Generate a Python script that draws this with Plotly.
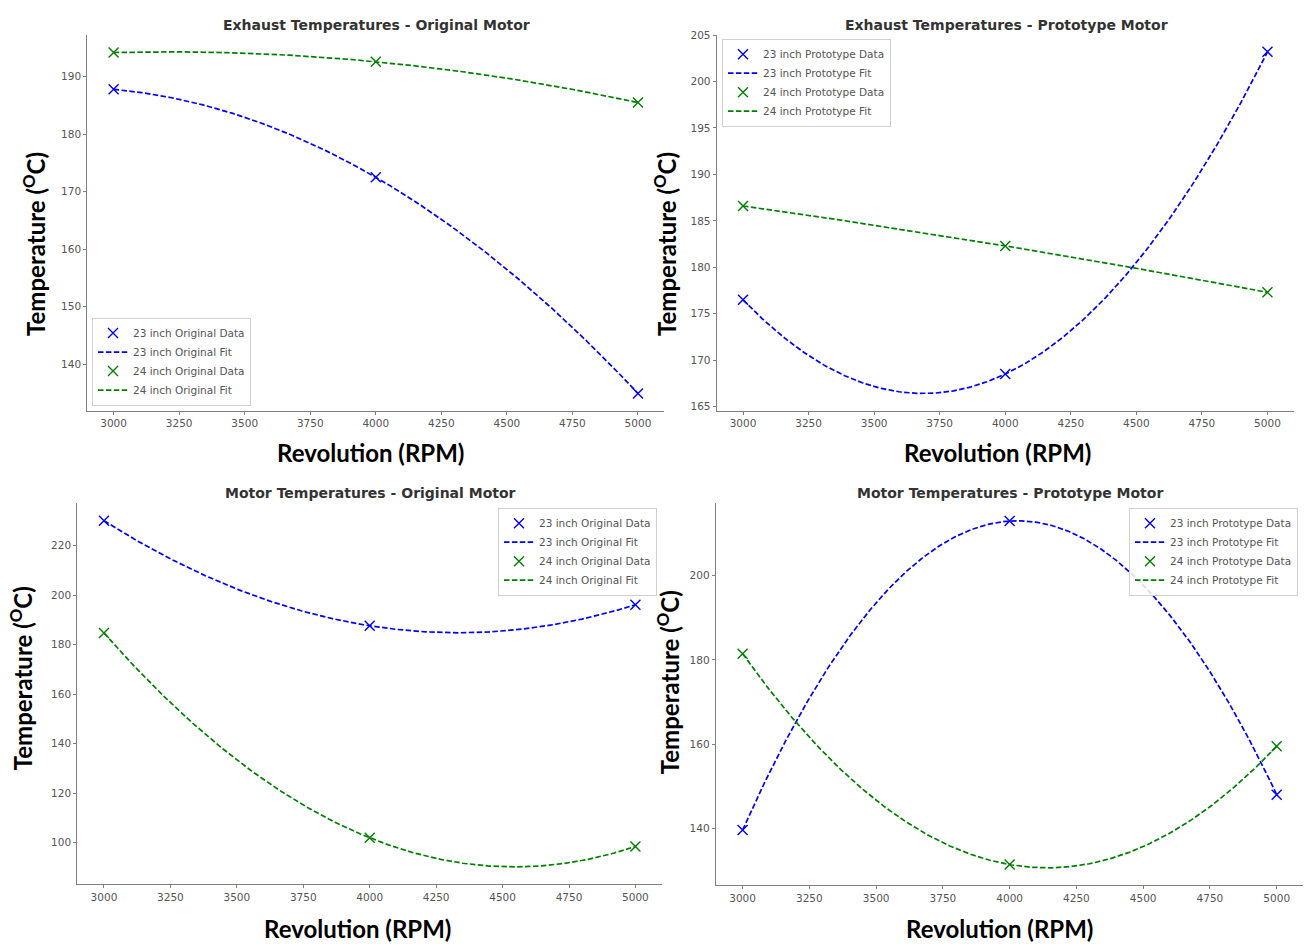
import numpy as np
import plotly.graph_objects as go

# ---- measured data -------------------------------------------------------
rpm = [3000, 4000, 5000]

exhaust_orig_23 = [187.8, 172.5, 134.9]
exhaust_orig_24 = [194.2, 192.6, 185.5]

exhaust_proto_23 = [176.5, 168.5, 203.2]
exhaust_proto_24 = [186.6, 182.3, 177.3]

motor_orig_23 = [230.0, 187.6, 196.1]
motor_orig_24 = [184.7, 102.0, 98.5]

motor_proto_23 = [139.6, 213.0, 148.0]
motor_proto_24 = [181.5, 131.4, 159.5]

panel_titles = [
    "Exhaust Temperatures - Original Motor",
    "Exhaust Temperatures - Prototype Motor",
    "Motor Temperatures - Original Motor",
    "Motor Temperatures - Prototype Motor",
]
series_kind = ["Original", "Prototype", "Original", "Prototype"]
y_dticks = [10, 5, 20, 20]
x_ticks = [3000, 3250, 3500, 3750, 4000, 4250, 4500, 4750, 5000]

panels = [
    (exhaust_orig_23, exhaust_orig_24),
    (exhaust_proto_23, exhaust_proto_24),
    (motor_orig_23, motor_orig_24),
    (motor_proto_23, motor_proto_24),
]

# ---- page geometry (pixels) ---------------------------------------------
W, H = 1307, 944
# left, right, top, bottom of each plotting area
boxes = [
    (87.4, 664.2, 29.0, 408.0),
    (716.8, 1293.7, 29.0, 408.0),
    (77.4, 662.0, 501.7, 885.7),
    (715.9, 1303.4, 501.7, 886.7),
]
title_pos = [(376, 19), (1006, 19), (370, 491), (1010, 491)]
xlabel_pos = [(370, 450), (997, 450), (357, 930), (999, 930)]
ylabel_pos = [(34, 240), (665, 240), (21, 678), (668, 682)]
# legend anchor: (x px, y px, xanchor, yanchor)
legend_pos = [
    (92, 403, "left", "bottom"),
    (722, 33, "left", "top"),
    (657, 506, "right", "top"),
    (1298, 506, "right", "top"),
]

BLUE = "#0000ff"
GREEN = "#008000"
TICK_FONT = dict(family="DejaVu Sans", size=10.5, color="#555555")
BIG_FONT = dict(family="Lato", size=24, color="#000000", weight="bold")

fig = go.Figure()


def pad_range(lo, hi, frac=0.05):
    span = hi - lo
    return [lo - frac * span, hi + frac * span]


xs_fit = np.linspace(min(rpm), max(rpm), 300)
annotations = []
layout_axes = {}

for i, ((s23, s24), (l, r, t, b)) in enumerate(zip(panels, boxes)):
    n = "" if i == 0 else str(i + 1)
    xref, yref = "x" + n, "y" + n
    legend_name = "legend" + n
    kind = series_kind[i]

    fit_values = []
    for size, vals, color in (("23", s23, BLUE), ("24", s24, GREEN)):
        # second-order polynomial fit through the measured points
        coeffs = np.polyfit(rpm, vals, 2)
        ys_fit = np.polyval(coeffs, xs_fit)
        fit_values.append(ys_fit)
        fig.add_trace(go.Scatter(
            x=rpm, y=vals, mode="markers",
            name=f"{size} inch {kind} Data",
            marker=dict(symbol="x-thin", size=10, color=color,
                        line=dict(width=1.4, color=color)),
            xaxis=xref, yaxis=yref, legend=legend_name,
        ))
        fig.add_trace(go.Scatter(
            x=xs_fit, y=ys_fit, mode="lines",
            name=f"{size} inch {kind} Fit",
            line=dict(color=color, width=1.7, dash="5.5px,2.4px"),
            xaxis=xref, yaxis=yref, legend=legend_name,
        ))

    all_y = np.concatenate(fit_values + [np.array(s23), np.array(s24)])
    y_range = pad_range(all_y.min(), all_y.max())
    x_range = pad_range(min(rpm), max(rpm))

    axis_common = dict(
        showgrid=False, zeroline=False, showline=True,
        linecolor="#808080", linewidth=1.3,
        ticks="outside", ticklen=3, tickwidth=1, tickcolor="#808080",
        tickfont=TICK_FONT, mirror=False,
    )
    layout_axes["xaxis" + n] = dict(
        axis_common, domain=[l / W, r / W], range=x_range,
        tickvals=x_ticks, anchor=yref,
    )
    layout_axes["yaxis" + n] = dict(
        axis_common, domain=[1 - b / H, 1 - t / H], range=y_range,
        dtick=y_dticks[i], tick0=0, anchor=xref,
    )

    lx, ly, xa, ya = legend_pos[i]
    layout_axes[legend_name] = dict(
        x=lx / W, y=1 - ly / H, xanchor=xa, yanchor=ya,
        bgcolor="rgba(255,255,255,0.85)", bordercolor="#d0d0d0",
        borderwidth=1, font=dict(family="DejaVu Sans", size=10.5,
                                 color="#555555"),
        traceorder="normal", itemwidth=30,
    )

    tx, ty = title_pos[i]
    annotations.append(dict(
        text=panel_titles[i], x=tx / W, y=1 - ty / H, xref="paper",
        yref="paper", showarrow=False, xanchor="center", yanchor="middle",
        font=dict(family="DejaVu Sans", size=14, color="#333333",
                  weight="bold"),
    ))
    xx, xy = xlabel_pos[i]
    annotations.append(dict(
        text="Revolution (RPM)", x=xx / W, y=1 - xy / H, xref="paper",
        yref="paper", showarrow=False, xanchor="center", yanchor="middle",
        font=BIG_FONT,
    ))
    yx, yy = ylabel_pos[i]
    annotations.append(dict(
        text="Temperature (<sup>O</sup>C)", x=yx / W, y=1 - yy / H,
        xref="paper", yref="paper", showarrow=False, textangle=-90,
        xanchor="center", yanchor="middle", font=BIG_FONT,
    ))

fig.update_layout(
    width=W, height=H,
    margin=dict(l=0, r=0, t=0, b=0),
    paper_bgcolor="white", plot_bgcolor="white",
    annotations=annotations,
    **layout_axes,
)

fig.write_html("out.html")
